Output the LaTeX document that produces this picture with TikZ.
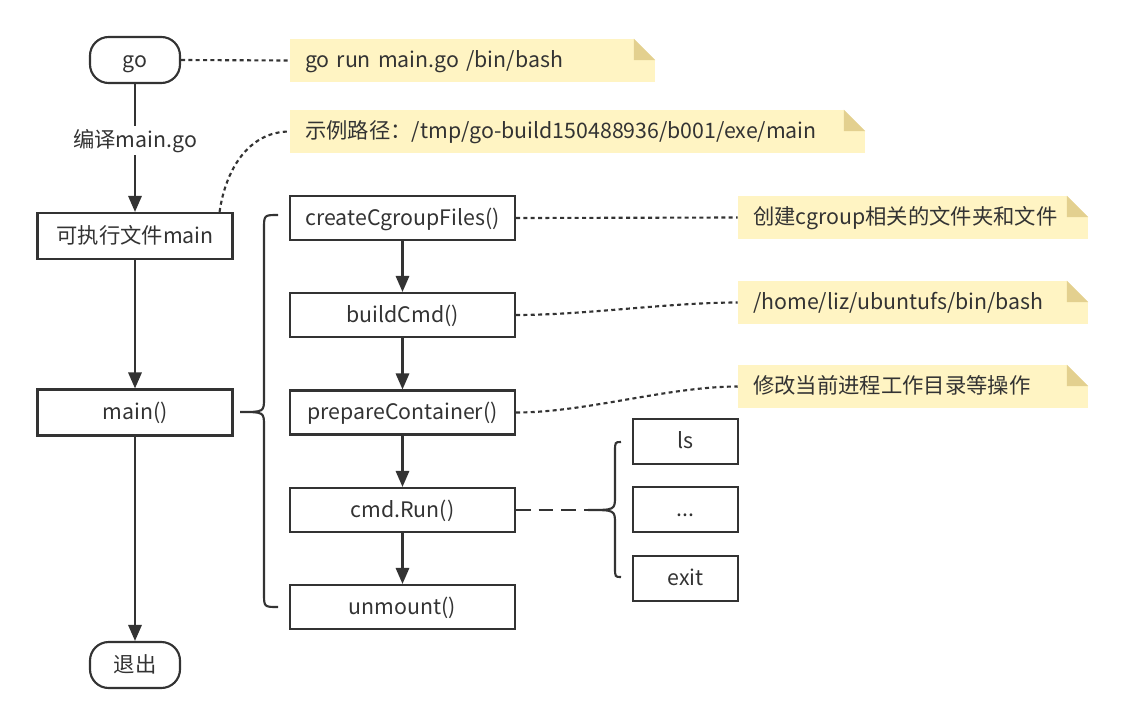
\documentclass[tikz,border=0pt]{standalone}
\usepackage{fontspec}
\setmainfont{Noto Sans CJK SC}
\usetikzlibrary{arrows.meta}
\definecolor{ink}{HTML}{333333}
\definecolor{notefill}{HTML}{FFF4C3}
\definecolor{foldc}{HTML}{E3D08F}
\begin{document}
\begin{tikzpicture}[x=0.75pt,y=-0.75pt,
  font=\fontsize{16}{19}\selectfont,
  txt/.style={text height=14.5pt, text depth=3.5pt},
  box/.style={draw=ink, line width=1.6pt, text=ink, inner sep=0pt, fill=white, txt},
  term/.style={box, rounded corners=14pt, minimum width=67.5pt, minimum height=34.5pt},
  lbox/.style={box, minimum width=146.25pt, minimum height=34.5pt},
  mbox/.style={box, minimum width=168.75pt, minimum height=33pt},
  rbox/.style={box, minimum width=78.75pt, minimum height=33.75pt},
  note/.style={fill=notefill, text=ink, inner xsep=11.25pt, inner ysep=0pt, minimum height=32.25pt, align=left, txt},
  arrow/.style={draw=ink, line width=1.6pt, -{Triangle[length=12pt,width=10pt]}},
  dotline/.style={draw=ink, line width=1.6pt, dash pattern=on 3pt off 2.5pt},
  dashline/.style={draw=ink, line width=1.6pt, dash pattern=on 11pt off 6pt},
  bracel/.style={draw=ink, line width=1.6pt}
]
\useasboundingbox (0,0) rectangle (1126,725);

% left column
\node[term] (go) at (135,60) {go};
\node[lbox] (exe) at (135,236) {可执行文件main};
\node[lbox] (mainf) at (135,412.5) {main()};
\node[term] (quit) at (135,665) {退出};

% middle column
\node[mbox] (cg) at (402.5,218) {createCgroupFiles()};
\node[mbox] (bc) at (402.5,315) {buildCmd()};
\node[mbox] (pc) at (402.5,412.5) {prepareContainer()};
\node[mbox] (run) at (402.5,510) {cmd.Run()};
\node[mbox] (um) at (402.5,607) {unmount()};

% right column
\node[rbox] (ls) at (685.5,441.5) {ls};
\node[rbox] (dots) at (685.5,509.5) {...};
\node[rbox] (exit) at (685.5,578.5) {exit};

% notes
\node[note, text width=251.25pt] (n1) at (472.5,60.5) {go run main.go /bin/bash};
\node[note, text width=408.75pt] (n2) at (577.5,131.5) {示例路径：/tmp/go-build150488936/b001/exe/main};
\node[note, text width=240pt] (n3) at (913,217.5) {创建cgroup相关的文件夹和文件};
\node[note, text width=240pt] (n4) at (913,302.5) {/home/liz/ubuntufs/bin/bash};
\node[note, text width=240pt] (n5) at (913,386.5) {修改当前进程工作目录等操作};
\foreach \n in {n1,n2,n3,n4,n5}{
  \fill[white] ([xshift=-16pt]\n.north east) -- ([xshift=0.5pt,yshift=0.5pt]\n.north east) -- ([yshift=-16pt]\n.north east) -- cycle;
  \fill[foldc] ([xshift=-16pt]\n.north east) -- ([xshift=-16pt,yshift=-16pt]\n.north east) -- ([yshift=-16pt]\n.north east) -- cycle;
}

% main flow
\draw[arrow] (go) -- node[pos=0.44, fill=white, text=ink, inner sep=2pt, txt] {编译main.go} (exe);
\draw[arrow] (exe) -- (mainf);
\draw[arrow] (mainf) -- (quit);

% sub flow
\draw[arrow] (cg) -- (bc);
\draw[arrow] (bc) -- (pc);
\draw[arrow] (pc) -- (run);
\draw[arrow] (run) -- (um);

% dotted annotations
\draw[dotline] (go.east) -- (n1.west);
\draw[dotline] ([xshift=-10.5pt]exe.north east) to[out=82,in=180] (n2.west);
\draw[dotline] (cg.east) -- (n3.west);
\draw[dotline] (bc.east) to[out=0,in=180,looseness=0.8] (n4.west);
\draw[dotline] (pc.east) to[out=0,in=180,looseness=0.8] (n5.west);

% braces
\draw[bracel] (278,215) .. controls (264,215) .. (264,229) -- (264,398)
  .. controls (264,412) .. (240,412) .. controls (264,412) .. (264,426)
  -- (264,593) .. controls (264,607) .. (278,607);
\draw[bracel] (621,442) .. controls (615,442) .. (615,452) -- (615,496)
  .. controls (615,510) .. (588,510) .. controls (615,510) .. (615,524)
  -- (615,567) .. controls (615,577) .. (621,577);
\coordinate (b2tip) at (588,510);
\draw[dashline] (run.east) -- (b2tip);
\end{tikzpicture}
\end{document}
